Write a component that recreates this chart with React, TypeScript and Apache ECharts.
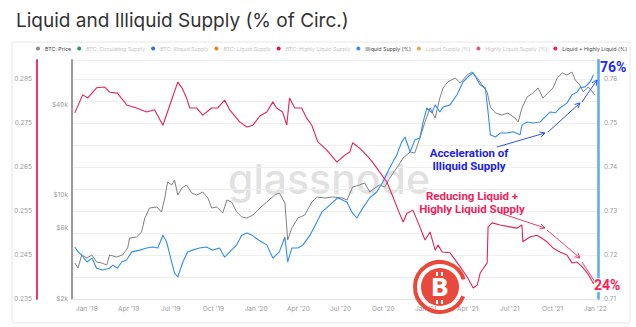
import React, { useEffect, useRef } from "react";
import * as echarts from "echarts";

// ---- data ----
const priceDates = [
  "2018-12-06","2018-12-13","2018-12-21","2019-01-01","2019-01-12","2019-01-22","2019-02-02","2019-02-13","2019-02-19","2019-03-06",
  "2019-03-19","2019-03-30","2019-04-03","2019-04-18","2019-04-29","2019-05-06","2019-05-16","2019-06-01","2019-06-11","2019-06-18",
  "2019-06-24","2019-07-03","2019-07-09","2019-07-16","2019-07-25","2019-08-04","2019-08-15","2019-08-26","2019-09-08","2019-09-19",
  "2019-09-27","2019-10-08","2019-10-21","2019-10-30","2019-11-09","2019-11-20","2019-12-01","2019-12-12","2019-12-25","2020-01-09",
  "2020-01-24","2020-02-10","2020-02-20","2020-03-03","2020-03-09","2020-03-18","2020-03-31","2020-04-15","2020-04-30","2020-05-11",
  "2020-05-28","2020-06-14","2020-07-04","2020-07-15","2020-07-27","2020-08-11","2020-08-22","2020-09-02","2020-09-13","2020-09-23",
  "2020-10-04","2020-10-15","2020-10-30","2020-11-13","2020-11-28","2020-12-08","2020-12-19","2020-12-30","2021-01-10","2021-01-21",
  "2021-01-31","2021-02-07","2021-02-17","2021-03-05","2021-03-16","2021-03-31","2021-04-10","2021-04-22","2021-05-02","2021-05-13",
  "2021-05-20","2021-05-31","2021-06-14","2021-06-27","2021-07-12","2021-07-19","2021-07-27","2021-08-07","2021-08-20","2021-08-31",
  "2021-09-10","2021-09-21","2021-10-02","2021-10-11","2021-10-22","2021-11-01","2021-11-12","2021-11-19","2021-11-29","2021-12-06",
  "2021-12-17","2021-12-28","2022-01-01"
];
const priceUsd = [
  3482,3224,3940,3760,3940,3537,3482,3376,3940,3819,
  3940,4389,5118,5196,5614,6964,8122,8249,7637,9476,
  12122,11577,12503,9925,11056,11577,10235,9925,10394,9476,
  8122,8249,7522,9188,8910,7637,7073,6964,7293,8122,
  8910,9925,10235,8774,4961,5970,6964,7293,8910,9623,
  9476,9623,9476,9188,11228,11577,11938,10394,11056,11577,
  11228,12894,15040,17544,19246,18952,23876,30556,37908,32486,
  44226,51580,56576,60158,55706,63006,65978,60158,54024,48484,
  38500,35096,34024,35096,32486,30556,37908,44906,47748,51580,
  44226,47748,51580,60158,64958,63006,65978,58340,54024,48484,
  52384,47748,46286
];

const illiquidDates = [
  "2018-12-06","2018-12-13","2018-12-21","2019-01-01","2019-01-12","2019-01-22","2019-02-04","2019-02-19","2019-02-26","2019-03-08",
  "2019-03-17","2019-03-28","2019-04-08","2019-04-25","2019-05-10","2019-05-23","2019-06-03","2019-06-14","2019-06-22","2019-06-29",
  "2019-07-09","2019-07-16","2019-07-27","2019-08-06","2019-08-17","2019-09-01","2019-09-16","2019-09-29","2019-10-14","2019-10-25",
  "2019-11-05","2019-11-20","2019-12-01","2019-12-12","2019-12-23","2020-01-06","2020-01-24","2020-02-06","2020-02-20","2020-03-03",
  "2020-03-09","2020-03-18","2020-03-31","2020-04-11","2020-04-26","2020-05-11","2020-05-22","2020-06-08","2020-06-25","2020-07-15",
  "2020-07-25","2020-08-05","2020-08-18","2020-09-02","2020-09-17","2020-09-30","2020-10-15","2020-10-30","2020-11-10","2020-11-17",
  "2020-11-28","2020-12-08","2020-12-19","2020-12-26","2021-01-03","2021-01-14","2021-01-21","2021-01-31","2021-02-07","2021-02-22",
  "2021-03-09","2021-03-22","2021-04-06","2021-04-13","2021-04-28","2021-05-09","2021-05-15","2021-05-20","2021-05-31","2021-06-10",
  "2021-06-25","2021-07-08","2021-07-23","2021-07-27","2021-08-07","2021-08-20","2021-09-04","2021-09-15","2021-09-26","2021-10-07",
  "2021-10-17","2021-11-01","2021-11-12","2021-11-23","2021-11-29","2021-12-10","2021-12-21","2021-12-28"
];
const illiquidPct = [
  0.7218,0.7207,0.7200,0.7184,0.7193,0.7170,0.7166,0.7170,0.7177,0.7170,
  0.7184,0.7189,0.7207,0.7211,0.7216,0.7218,0.7216,0.7245,0.7230,0.7200,
  0.7159,0.7150,0.7184,0.7207,0.7211,0.7216,0.7218,0.7211,0.7216,0.7195,
  0.7207,0.7223,0.7245,0.7250,0.7245,0.7234,0.7223,0.7193,0.7207,0.7241,
  0.7184,0.7216,0.7216,0.7223,0.7245,0.7275,0.7298,0.7314,0.7330,0.7320,
  0.7298,0.7284,0.7307,0.7330,0.7343,0.7366,0.7398,0.7427,0.7457,0.7468,
  0.7434,0.7461,0.7466,0.7502,0.7534,0.7523,0.7541,0.7525,0.7536,0.7541,
  0.7564,0.7593,0.7609,0.7614,0.7586,0.7580,0.7525,0.7473,0.7468,0.7477,
  0.7477,0.7480,0.7473,0.7495,0.7502,0.7500,0.7502,0.7514,0.7525,0.7523,
  0.7534,0.7545,0.7564,0.7570,0.7580,0.7582,0.7593,0.7609
];

const liquidDates = [
  "2018-12-06","2018-12-23","2019-01-03","2019-01-22","2019-02-08","2019-02-19","2019-03-08","2019-03-28","2019-04-18","2019-05-10",
  "2019-05-27","2019-06-14","2019-06-29","2019-07-16","2019-07-25","2019-08-04","2019-08-11","2019-08-26","2019-09-08","2019-09-27",
  "2019-10-10","2019-10-25","2019-11-05","2019-11-27","2019-12-12","2019-12-25","2020-01-09","2020-01-24","2020-02-06","2020-02-14",
  "2020-02-27","2020-03-07","2020-03-13","2020-03-24","2020-04-08","2020-04-19","2020-04-30","2020-05-13","2020-06-01","2020-06-23",
  "2020-07-10","2020-07-21","2020-07-27","2020-08-11","2020-08-26","2020-09-08","2020-09-23","2020-10-09","2020-10-22","2020-11-02",
  "2020-11-13","2020-11-21","2020-12-04","2020-12-19","2020-12-30","2021-01-10","2021-01-21","2021-01-27","2021-02-05","2021-02-22",
  "2021-03-05","2021-03-16","2021-03-31","2021-04-13","2021-04-22","2021-04-28","2021-05-13","2021-05-15","2021-05-24","2021-06-10",
  "2021-07-01","2021-07-16","2021-07-27","2021-07-29","2021-08-13","2021-08-28","2021-09-04","2021-09-19","2021-10-02","2021-10-17",
  "2021-11-01","2021-11-12","2021-11-23","2021-12-04","2021-12-15","2021-12-28","2022-01-01"
];
const liquidPct = [
  0.2773,0.2814,0.2807,0.2830,0.2832,0.2820,0.2818,0.2791,0.2784,0.2775,
  0.2780,0.2745,0.2791,0.2843,0.2830,0.2807,0.2784,0.2784,0.2768,0.2784,
  0.2784,0.2802,0.2780,0.2752,0.2741,0.2745,0.2766,0.2775,0.2798,0.2784,
  0.2775,0.2745,0.2807,0.2784,0.2784,0.2761,0.2745,0.2707,0.2689,0.2661,
  0.2677,0.2684,0.2705,0.2693,0.2677,0.2661,0.2639,0.2616,0.2582,0.2552,
  0.2525,0.2545,0.2552,0.2514,0.2484,0.2502,0.2461,0.2473,0.2457,0.2455,
  0.2439,0.2423,0.2400,0.2375,0.2382,0.2409,0.2432,0.2514,0.2523,0.2518,
  0.2514,0.2511,0.2518,0.2480,0.2491,0.2495,0.2491,0.2480,0.2466,0.2457,
  0.2450,0.2432,0.2434,0.2423,0.2409,0.2386,0.2382
];

// ---- tick labels ----
const xTickDates = [
  "2019-01-01","2019-04-01","2019-07-01","2019-10-01","2020-01-01","2020-04-01","2020-07-01",
  "2020-10-01","2021-01-01","2021-04-01","2021-07-01","2021-10-01","2022-01-01"
];
const monthNames = ["Jan","Feb","Mar","Apr","May","Jun","Jul","Aug","Sep","Oct","Nov","Dec"];
const priceTicks = [2000, 6000, 10000, 40000];
const liquidTicks = [0.235, 0.245, 0.255, 0.265, 0.275, 0.285];

const legendItems = [
  { name: "BTC: Price", color: "#8a8a8a", active: true },
  { name: "BTC: Circulating Supply", color: "#1e9c5b", active: false },
  { name: "BTC: Illiquid Supply", color: "#2a6fe6", active: false },
  { name: "BTC: Liquid Supply", color: "#f07f1e", active: false },
  { name: "BTC: Highly Liquid Supply", color: "#ea1044", active: false },
  { name: "Illiquid Supply (%)", color: "#2f8ff0", active: true },
  { name: "Liquid Supply (%)", color: "#f5a23c", active: false },
  { name: "Highly Liquid Supply (%)", color: "#e8587e", active: false },
  { name: "Liquid + Highly Liquid (%)", color: "#e5225c", active: true },
];

function toLocalTs(s: string) {
  const [y, m, d] = s.split("-").map(Number);
  return new Date(y, m - 1, d).getTime();
}

function arrow(x1: number, y1: number, x2: number, y2: number, color: string) {
  const a = Math.atan2(y2 - y1, x2 - x1);
  const L = 5, W = 2.6;
  const bx = x2 - L * Math.cos(a), by = y2 - L * Math.sin(a);
  const px = -Math.sin(a) * W, py = Math.cos(a) * W;
  return [
    { type: "line", z: 100, shape: { x1, y1, x2, y2 }, style: { stroke: color, lineWidth: 1 } },
    { type: "polyline", z: 100, shape: { points: [[bx + px, by + py], [x2, y2], [bx - px, by - py]] }, style: { stroke: color, lineWidth: 1, fill: "none" } },
  ];
}

export default function App() {
  const ref = useRef<HTMLDivElement>(null);
  useEffect(() => {
    if (!ref.current) return;
    const chart = echarts.init(ref.current, null, { renderer: "svg" });
    const fam = "Inter, 'Noto Sans', sans-serif";
    const lineSeries = (name: string, dates: string[], vals: number[], yIdx: number, color: string, width: number, z: number) => ({
      name, type: "line", yAxisIndex: yIdx, showSymbol: false, symbol: "none",
      data: dates.map((d, i) => [toLocalTs(d), vals[i]]),
      lineStyle: { color, width }, itemStyle: { color }, z,
    });
    const emptySeries = legendItems.filter((l) => !l.active).map((l) => ({
      name: l.name, type: "line", yAxisIndex: 2, data: [], itemStyle: { color: l.color }, lineStyle: { color: l.color },
    }));
    const graphics: any[] = [
      { type: "rect", z: -10, shape: { x: 12, y: 42, width: 618, height: 281, r: 2 }, style: { fill: "none", stroke: "#e7e7e7", lineWidth: 1 } },
      { type: "text", z: 0, x: 228, y: 179, style: { text: "glassnode", fontSize: 41, fontFamily: fam, fontWeight: 500, fill: "rgba(150,150,150,0.3)", textVerticalAlign: "middle" } },
      { type: "text", z: 100, x: 469, y: 159, style: { text: "Acceleration of\nIlliquid Supply", fontSize: 11.5, fontWeight: "bold", fontFamily: "Roboto, sans-serif", fill: "#1c22e6", textAlign: "center", textVerticalAlign: "middle", lineHeight: 13 } },
      { type: "text", z: 100, x: 472, y: 202, style: { text: "Reducing Liquid +\nHighly Liquid Supply", fontSize: 11.5, fontWeight: "bold", fontFamily: "Roboto, sans-serif", fill: "#f1245c", textAlign: "center", textVerticalAlign: "middle", lineHeight: 13 } },
      ...arrow(497, 147, 545, 133, "#2f4ff0"),
      ...arrow(548, 132, 580, 103, "#2f4ff0"),
      ...arrow(582, 102, 597, 80, "#2f4ff0"),
      ...arrow(500, 213, 545, 228, "#f03a6a"),
      ...arrow(547, 230, 580, 258, "#f03a6a"),
      ...arrow(582, 262, 597, 285, "#f03a6a"),
      { type: "text", z: 110, x: 600, y: 67, style: { text: "76%", fontSize: 14, fontWeight: "bold", fontFamily: "Roboto, sans-serif", fill: "#1f2bef", textVerticalAlign: "middle" } },
      { type: "text", z: 110, x: 594, y: 285, style: { text: "24%", fontSize: 14, fontWeight: "bold", fontFamily: "Roboto, sans-serif", fill: "#ff2256", textVerticalAlign: "middle", backgroundColor: "#fff" } },
      // overlay logo
      { type: "arc", z: 120, shape: { cx: 440, cy: 287, r: 25, startAngle: Math.PI * 0.12, endAngle: Math.PI * 1.9, clockwise: true }, style: { stroke: "#e9493c", lineWidth: 4, fill: "none" } },
      { type: "circle", z: 120, shape: { cx: 440, cy: 287, r: 19 }, style: { fill: "#e9493c" } },
      { type: "text", z: 121, x: 440, y: 288, style: { text: "B", fontSize: 24, fontWeight: "bold", fontFamily: "'DejaVu Sans', sans-serif", fill: "#fff", textAlign: "center", textVerticalAlign: "middle" } },
      { type: "rect", z: 121, shape: { x: 436, y: 272, width: 2, height: 4 }, style: { fill: "#fff" } },
      { type: "rect", z: 121, shape: { x: 441, y: 272, width: 2, height: 4 }, style: { fill: "#fff" } },
      { type: "rect", z: 121, shape: { x: 436, y: 300, width: 2, height: 4 }, style: { fill: "#fff" } },
      { type: "rect", z: 121, shape: { x: 441, y: 300, width: 2, height: 4 }, style: { fill: "#fff" } },
    ];
    chart.setOption({
      animation: false,
      backgroundColor: "#fff",
      textStyle: { fontFamily: fam },
      title: { text: "Liquid and Illiquid Supply (% of Circ.)", left: 11, top: 6, textStyle: { fontSize: 19, fontWeight: "normal", color: "#333", fontFamily: fam } },
      legend: {
        left: 36, top: 46, width: 598, itemGap: 6, itemWidth: 4, itemHeight: 4, icon: "circle", padding: 0,
        selectedMode: false,
        data: legendItems.map((l) => ({ name: l.name, itemStyle: { color: l.color }, textStyle: { color: l.active ? "#444" : "#c4c4c4" } })),
        textStyle: { fontSize: 5.3, fontFamily: fam },
      },
      grid: { left: 72, right: 38, top: 60, bottom: 28 },
      xAxis: {
        type: "value",
        min: toLocalTs("2018-11-30"),
        max: toLocalTs("2022-01-07"),
        axisLine: { show: true, lineStyle: { color: "#e2e2e2", width: 1 } },
        axisTick: { show: false },
        splitLine: { show: false },
        axisLabel: {
          customValues: xTickDates.map(toLocalTs),
          color: "#999", fontSize: 6.5, margin: 6, hideOverlap: false, showMinLabel: true, showMaxLabel: true,
          formatter: (v: number) => { const d = new Date(v); return monthNames[d.getMonth()] + " '" + String(d.getFullYear()).slice(2); },
        },
      },
      yAxis: [
        {
          type: "value", position: "left", offset: 35, min: 0.235, max: 0.28932,
          axisLine: { show: true, lineStyle: { color: "#e83a6e", width: 2 } },
          axisTick: { show: false }, splitLine: { show: false },
          axisLabel: { customValues: liquidTicks, color: "#999", fontSize: 6.5, margin: 5, formatter: (v: number) => v.toFixed(3) },
        },
        {
          type: "log", logBase: 10, position: "left", min: 2000, max: 79400,
          axisLine: { show: true, lineStyle: { color: "#9a9a9a", width: 2 } },
          axisTick: { show: false }, splitLine: { show: false }, minorSplitLine: { show: false },
          axisLabel: { customValues: priceTicks, color: "#999", fontSize: 6.5, margin: 4, formatter: (v: number) => "$" + Math.round(v / 1000) + "k" },
        },
        {
          type: "value", position: "right", min: 0.71, max: 0.7643, interval: 0.005,
          axisLine: { show: true, lineStyle: { color: "#5eaaf2", width: 2.5 } },
          axisTick: { show: false },
          splitLine: { show: true, lineStyle: { color: "#efefef", width: 1 } },
          axisLabel: {
            color: "#999", fontSize: 6.5, margin: 6,
            formatter: (v: number) => (Math.abs(Math.round(v * 100) - v * 100) < 1e-6 ? v.toFixed(2) : ""),
          },
        },
      ],
      series: [
        lineSeries("BTC: Price", priceDates, priceUsd, 1, "#808080", 1, 3),
        lineSeries("Illiquid Supply (%)", illiquidDates, illiquidPct, 2, "#2f8ff0", 1.1, 4),
        lineSeries("Liquid + Highly Liquid (%)", liquidDates, liquidPct, 0, "#e5225c", 1.1, 5),
        ...emptySeries,
      ],
      graphic: graphics,
    });
    return () => chart.dispose();
  }, []);
  return <div ref={ref} style={{ position: "absolute", left: 0, top: 0, width: 636, height: 327, background: "#fff" }} />;
}
